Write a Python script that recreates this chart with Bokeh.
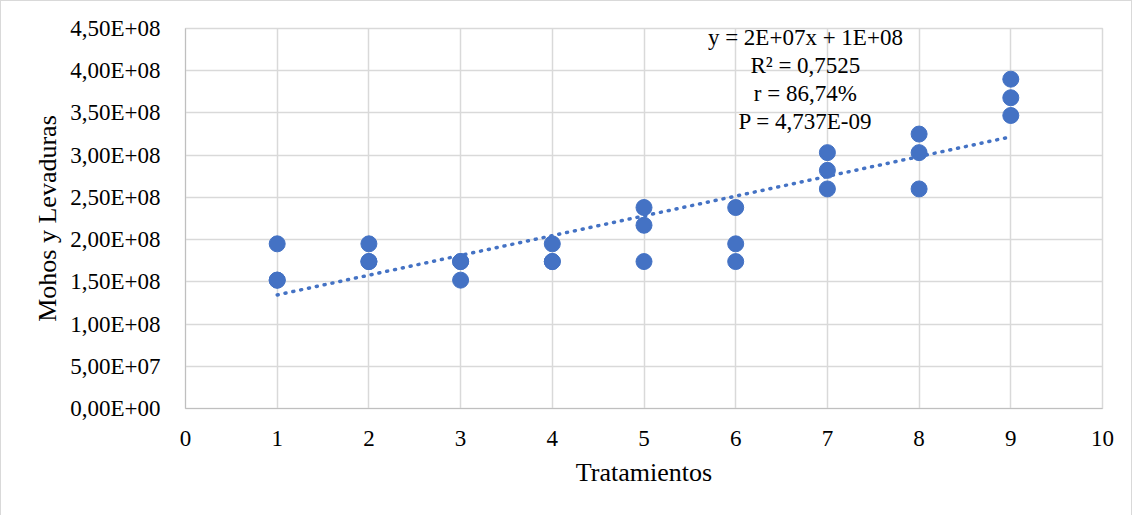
import numpy as np
from bokeh.plotting import figure
from bokeh.models import FixedTicker, CustomJSTickFormatter, Range1d, Label, ColumnDataSource
from bokeh.embed import file_html
from bokeh.resources import INLINE

# Data
tratamientos = [1, 1, 1, 2, 2, 2, 3, 3, 3, 4, 4, 4, 5, 5, 5, 6, 6, 6, 7, 7, 7, 8, 8, 8, 9, 9, 9]
mohos_levaduras = [1.95e8, 1.52e8, 1.52e8,
                   1.95e8, 1.74e8, 1.74e8,
                   1.74e8, 1.74e8, 1.52e8,
                   1.95e8, 1.74e8, 1.74e8,
                   2.38e8, 2.17e8, 1.74e8,
                   2.38e8, 1.95e8, 1.74e8,
                   3.03e8, 2.82e8, 2.60e8,
                   3.25e8, 3.03e8, 2.60e8,
                   3.90e8, 3.68e8, 3.47e8]
x_ticks = list(range(0, 11))
y_ticks = [i * 0.5e8 for i in range(0, 10)]
annotation_text = "y = 2E+07x + 1E+08\nR² = 0,7525\nr = 86,74%\nP = 4,737E-09"

FONT = "Liberation Serif"
BLUE = "#4472C4"
GRID = "#d9d9d9"

p = figure(width=1132, height=515, output_backend="svg", toolbar_location=None,
           x_range=Range1d(0, 10), y_range=Range1d(0, 4.5e8),
           min_border_left=184, min_border_right=31, min_border_top=27, min_border_bottom=108)
p.styles = {"border-left": "1px solid #d9d9d9", "border-top": "1px solid #d9d9d9",
            "border-right": "1px solid #d9d9d9"}

p.xaxis.ticker = FixedTicker(ticks=x_ticks)
p.yaxis.ticker = FixedTicker(ticks=y_ticks)
p.yaxis.formatter = CustomJSTickFormatter(code="""
var s = tick.toExponential(2);
var parts = s.split('e');
var m = parts[0].replace('.', ',');
var e = parseInt(parts[1]);
var sign = e < 0 ? '-' : '+';
var ae = Math.abs(e);
return m + 'E' + sign + (ae < 10 ? '0' : '') + ae;
""")

for ax in (p.xaxis, p.yaxis):
    ax.major_tick_line_color = None
    ax.minor_tick_line_color = None
    ax.axis_line_color = "#bfbfbf"
    ax.major_label_text_font = FONT
    ax.major_label_text_font_size = "23px"
    ax.major_label_text_color = "#000000"
    ax.axis_label_text_font = FONT
    ax.axis_label_text_font_size = "26px"
    ax.axis_label_text_font_style = "normal"
    ax.axis_label_text_color = "#000000"

p.xaxis.axis_label = "Tratamientos"
p.yaxis.axis_label = "Mohos y Levaduras"
p.xaxis.major_label_standoff = 16
p.yaxis.major_label_standoff = 19
p.xaxis.axis_label_standoff = 9
p.yaxis.axis_label_standoff = 5

p.xgrid.grid_line_color = GRID
p.ygrid.grid_line_color = GRID
p.xgrid.grid_line_width = 1.5
p.ygrid.grid_line_width = 1.5
p.outline_line_color = GRID
p.outline_line_width = 1.5

src = ColumnDataSource(data=dict(x=tratamientos, y=mohos_levaduras))
p.scatter("x", "y", source=src, size=16, color=BLUE, line_color=BLUE)

# Linear trendline computed from the data
slope, intercept = np.polyfit(tratamientos, mohos_levaduras, 1)
tx = [min(tratamientos), max(tratamientos)]
ty = [slope * v + intercept for v in tx]
p.line(tx, ty, line_color=BLUE, line_width=3.5, line_dash="1 7", line_cap="round")

lab = Label(x=6.76, y=4.5e8, text=annotation_text, text_align="center", text_baseline="top",
            text_font=FONT, text_font_size="23px", text_color="#000000",
            text_line_height=1.13, y_offset=4)
p.add_layout(lab)

open("out.html", "w").write(file_html(p, INLINE))
